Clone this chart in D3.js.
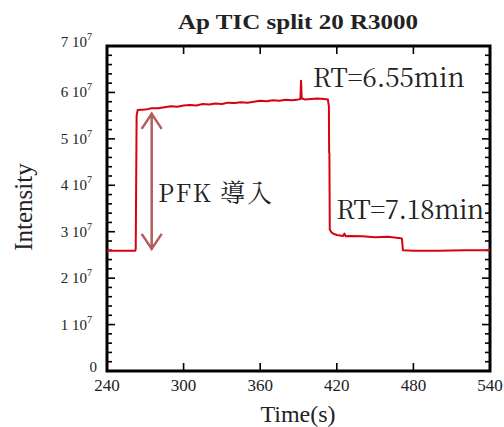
<!DOCTYPE html>
<html><head><meta charset="utf-8">
<script src="https://cdn.jsdelivr.net/npm/d3@7"></script>
<style>body{margin:0;background:#fff}svg{display:block}text{font-family:"Liberation Serif","Times New Roman",serif}text.cjk{font-family:"Noto Serif CJK JP",serif}</style>
</head><body><svg id="c" width="504" height="427"></svg>
<script>
const times = [240,262,262.5,263.2,264,270,275,280,285,290,295,300,305,310,315,320,325,330,335,340,345,350,355,360,365,370,375,380,385,390,391.5,392,392.5,395,400,405,410,413,413.8,414,414.2,414.5,416,418,420,425,426,427,430,440,450,460,470,471,471.8,480,500,520,540];
const intensity = [2.59,2.59,2.62,5.50,5.62,5.63,5.66,5.66,5.68,5.70,5.69,5.72,5.73,5.72,5.75,5.74,5.76,5.75,5.78,5.77,5.79,5.78,5.80,5.82,5.81,5.83,5.82,5.84,5.83,5.85,5.86,6.25,5.87,5.85,5.86,5.87,5.86,5.85,5.70,4.70,4.70,3.05,2.98,2.95,2.93,2.91,2.96,2.90,2.91,2.90,2.88,2.89,2.86,2.85,2.60,2.59,2.59,2.60,2.60].map(v=>v*1e7);
const xTicks = [240,300,360,420,480,540];
const yTicks = [0,1,2,3,4,5,6,7];
const title = "Ap TIC split 20 R3000";
const annotations = [{t:"RT=6.55min",x:401.2,y:6.12e7,len:152},{t:"RT=7.18min",x:419.6,y:3.27e7,len:148}];
const arrowTime = 275, arrowTop = 5.56e7, arrowBottom = 2.61e7;

const svg = d3.select("#c");
const L=107,R=490,T=46,B=371;
const x = d3.scaleLinear().domain([240,540]).range([L,R]);
const y = d3.scaleLinear().domain([0,7e7]).range([B,T]);

// ticks
const g = svg.append("g");
const minorY = d3.range(0,70.001,2).map(v=>v*1e6);
const tk = (sel)=>sel.attr("stroke","#000").attr("stroke-width",1.6);
g.selectAll(".ly").data(minorY).join("line").call(tk)
 .attr("x1",L).attr("x2",d=>L+((Math.round(d/1e6))%10===0?8:5)).attr("y1",d=>y(d)).attr("y2",d=>y(d));
g.selectAll(".ry").data(minorY).join("line").call(tk)
 .attr("x1",R).attr("x2",d=>R-((Math.round(d/1e6))%10===0?8:5)).attr("y1",d=>y(d)).attr("y2",d=>y(d));
g.selectAll(".bx").data(xTicks).join("line").call(tk)
 .attr("x1",d=>x(d)).attr("x2",d=>x(d)).attr("y1",B).attr("y2",B-8);
g.selectAll(".tx").data(xTicks).join("line").call(tk)
 .attr("x1",d=>x(d)).attr("x2",d=>x(d)).attr("y1",T).attr("y2",T+8);

// frame
svg.append("rect").attr("x",L).attr("y",T).attr("width",R-L).attr("height",B-T)
 .attr("fill","none").attr("stroke","#000").attr("stroke-width",3);

// x labels
svg.selectAll(".xl").data(xTicks).join("text").attr("x",d=>x(d)).attr("y",B+20)
 .attr("text-anchor","middle").attr("font-size",17).attr("fill","#222").text(d=>d);
// y labels
const yl = svg.selectAll(".yl").data(yTicks).join("text")
 .attr("x",d=>d===0?97:92).attr("y",d=>d===0?y(0)+1:(d===7?y(d*1e7)+1:y(d*1e7)+5))
 .attr("text-anchor","end").attr("font-size",15).attr("fill","#222");
yl.each(function(d){
  const s=d3.select(this);
  if(d===0){s.text("0");return;}
  s.append("tspan").text(d+" 10");
  s.append("tspan").attr("dy",-7).attr("font-size",10).text("7");
});

// title
svg.append("text").attr("x",178).attr("y",29)
 .attr("font-size",21).attr("font-weight","bold").attr("fill","#222")
 .attr("textLength",240).attr("lengthAdjust","spacingAndGlyphs").text(title);
svg.append("text").attr("x",298).attr("y",422).attr("text-anchor","middle")
 .attr("font-size",24).attr("fill","#222").text("Time(s)");
svg.append("text").attr("transform","translate(32,207) rotate(-90)").attr("text-anchor","middle")
 .attr("font-size",25).attr("fill","#222").text("Intensity");

// line
const line = d3.line().x((d,i)=>x(times[i])).y(d=>y(d));
svg.append("path").datum(intensity).attr("d",line).attr("fill","none")
 .attr("stroke","#d90010").attr("stroke-width",2).attr("stroke-linejoin","round");

// arrow
const ac="#b45c5e";
const ax=x(arrowTime), ay1=y(arrowTop), ay2=y(arrowBottom);
svg.append("line").attr("x1",ax).attr("x2",ax).attr("y1",ay1).attr("y2",ay2).attr("stroke",ac).attr("stroke-width",2.5);
svg.append("path").attr("d",`M${ax-10},${ay1+16}L${ax},${ay1+1}L${ax+10},${ay1+16}`).attr("fill","none").attr("stroke",ac).attr("stroke-width",2.5);
svg.append("path").attr("d",`M${ax-10},${ay2-16}L${ax},${ay2-1}L${ax+10},${ay2-16}`).attr("fill","none").attr("stroke",ac).attr("stroke-width",2.5);
svg.append("text").attr("class","cjk").attr("x",158).attr("y",y(3.65e7)).attr("font-size",25)
 .attr("fill","#222").attr("textLength",114).attr("lengthAdjust","spacing").text("PFK 導入");

svg.selectAll(".an").data(annotations).join("text").attr("class","cjk").attr("x",d=>x(d.x)).attr("y",d=>y(d.y))
 .attr("font-size",26).attr("fill","#222").attr("textLength",d=>d.len).attr("lengthAdjust","spacing").text(d=>d.t);
</script></body></html>
